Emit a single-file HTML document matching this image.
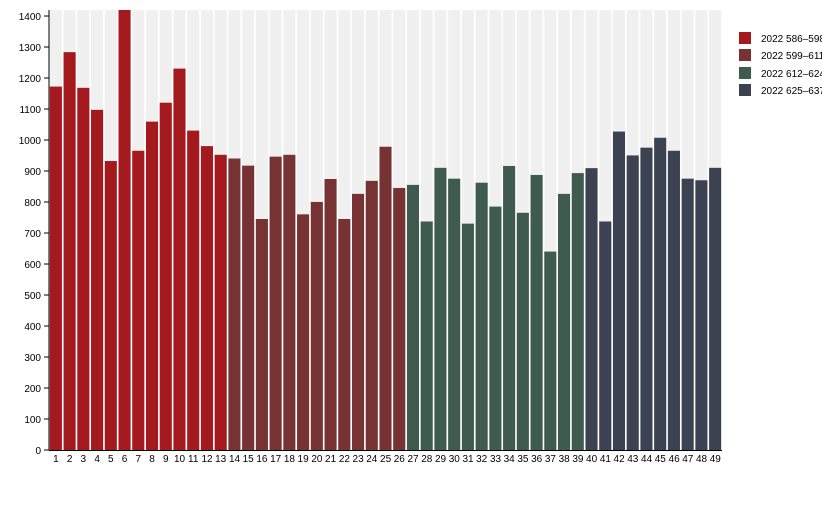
<!DOCTYPE html>
<html><head><meta charset="utf-8"><style>
body{margin:0;background:#fff;}
svg text{font-family:"Liberation Sans",sans-serif;font-size:10px;fill:#000;}
</style></head><body>
<svg width="822" height="500" xmlns="http://www.w3.org/2000/svg">
<svg x="49" y="10" width="673" height="440" viewBox="0 0 49 1419" preserveAspectRatio="none">
<g transform="translate(0,1419) scale(1,-1)">
<g fill="#f0f0f0">
<rect x="0.06" y="0" width="0.88" height="1419"/><rect x="1.06" y="0" width="0.88" height="1419"/><rect x="2.06" y="0" width="0.88" height="1419"/><rect x="3.06" y="0" width="0.88" height="1419"/><rect x="4.06" y="0" width="0.88" height="1419"/><rect x="5.06" y="0" width="0.88" height="1419"/><rect x="6.06" y="0" width="0.88" height="1419"/><rect x="7.06" y="0" width="0.88" height="1419"/><rect x="8.06" y="0" width="0.88" height="1419"/><rect x="9.06" y="0" width="0.88" height="1419"/><rect x="10.06" y="0" width="0.88" height="1419"/><rect x="11.06" y="0" width="0.88" height="1419"/><rect x="12.06" y="0" width="0.88" height="1419"/><rect x="13.06" y="0" width="0.88" height="1419"/><rect x="14.06" y="0" width="0.88" height="1419"/><rect x="15.06" y="0" width="0.88" height="1419"/><rect x="16.06" y="0" width="0.88" height="1419"/><rect x="17.06" y="0" width="0.88" height="1419"/><rect x="18.06" y="0" width="0.88" height="1419"/><rect x="19.06" y="0" width="0.88" height="1419"/><rect x="20.06" y="0" width="0.88" height="1419"/><rect x="21.06" y="0" width="0.88" height="1419"/><rect x="22.06" y="0" width="0.88" height="1419"/><rect x="23.06" y="0" width="0.88" height="1419"/><rect x="24.06" y="0" width="0.88" height="1419"/><rect x="25.06" y="0" width="0.88" height="1419"/><rect x="26.06" y="0" width="0.88" height="1419"/><rect x="27.06" y="0" width="0.88" height="1419"/><rect x="28.06" y="0" width="0.88" height="1419"/><rect x="29.06" y="0" width="0.88" height="1419"/><rect x="30.06" y="0" width="0.88" height="1419"/><rect x="31.06" y="0" width="0.88" height="1419"/><rect x="32.06" y="0" width="0.88" height="1419"/><rect x="33.06" y="0" width="0.88" height="1419"/><rect x="34.06" y="0" width="0.88" height="1419"/><rect x="35.06" y="0" width="0.88" height="1419"/><rect x="36.06" y="0" width="0.88" height="1419"/><rect x="37.06" y="0" width="0.88" height="1419"/><rect x="38.06" y="0" width="0.88" height="1419"/><rect x="39.06" y="0" width="0.88" height="1419"/><rect x="40.06" y="0" width="0.88" height="1419"/><rect x="41.06" y="0" width="0.88" height="1419"/><rect x="42.06" y="0" width="0.88" height="1419"/><rect x="43.06" y="0" width="0.88" height="1419"/><rect x="44.06" y="0" width="0.88" height="1419"/><rect x="45.06" y="0" width="0.88" height="1419"/><rect x="46.06" y="0" width="0.88" height="1419"/><rect x="47.06" y="0" width="0.88" height="1419"/><rect x="48.06" y="0" width="0.88" height="1419"/>
</g>
<g fill="#a4191d">
<rect x="0.06" y="0" width="0.88" height="1172"/><rect x="1.06" y="0" width="0.88" height="1283"/><rect x="2.06" y="0" width="0.88" height="1168"/><rect x="3.06" y="0" width="0.88" height="1097"/><rect x="4.06" y="0" width="0.88" height="932"/><rect x="5.06" y="0" width="0.88" height="1419"/><rect x="6.06" y="0" width="0.88" height="965"/><rect x="7.06" y="0" width="0.88" height="1059"/><rect x="8.06" y="0" width="0.88" height="1120"/><rect x="9.06" y="0" width="0.88" height="1230"/><rect x="10.06" y="0" width="0.88" height="1030"/><rect x="11.06" y="0" width="0.88" height="980"/><rect x="12.06" y="0" width="0.88" height="952"/>
</g>
<g fill="#773333">
<rect x="13.06" y="0" width="0.88" height="940"/><rect x="14.06" y="0" width="0.88" height="917"/><rect x="15.06" y="0" width="0.88" height="745"/><rect x="16.06" y="0" width="0.88" height="946"/><rect x="17.06" y="0" width="0.88" height="952"/><rect x="18.06" y="0" width="0.88" height="760"/><rect x="19.06" y="0" width="0.88" height="800"/><rect x="20.06" y="0" width="0.88" height="874"/><rect x="21.06" y="0" width="0.88" height="745"/><rect x="22.06" y="0" width="0.88" height="826"/><rect x="23.06" y="0" width="0.88" height="868"/><rect x="24.06" y="0" width="0.88" height="978"/><rect x="25.06" y="0" width="0.88" height="845"/>
</g>
<g fill="#3f5b4f">
<rect x="26.06" y="0" width="0.88" height="855"/><rect x="27.06" y="0" width="0.88" height="737"/><rect x="28.06" y="0" width="0.88" height="910"/><rect x="29.06" y="0" width="0.88" height="875"/><rect x="30.06" y="0" width="0.88" height="730"/><rect x="31.06" y="0" width="0.88" height="862"/><rect x="32.06" y="0" width="0.88" height="785"/><rect x="33.06" y="0" width="0.88" height="916"/><rect x="34.06" y="0" width="0.88" height="765"/><rect x="35.06" y="0" width="0.88" height="887"/><rect x="36.06" y="0" width="0.88" height="640"/><rect x="37.06" y="0" width="0.88" height="826"/><rect x="38.06" y="0" width="0.88" height="893"/>
</g>
<g fill="#3d4252">
<rect x="39.06" y="0" width="0.88" height="909"/><rect x="40.06" y="0" width="0.88" height="737"/><rect x="41.06" y="0" width="0.88" height="1027"/><rect x="42.06" y="0" width="0.88" height="950"/><rect x="43.06" y="0" width="0.88" height="975"/><rect x="44.06" y="0" width="0.88" height="1007"/><rect x="45.06" y="0" width="0.88" height="965"/><rect x="46.06" y="0" width="0.88" height="875"/><rect x="47.06" y="0" width="0.88" height="870"/><rect x="48.06" y="0" width="0.88" height="910"/>
</g>
</g>
</svg>
<line x1="49" y1="10" x2="49" y2="450.5" stroke="#000"/>
<line x1="49" y1="450.5" x2="722" y2="450.5" stroke="#000"/>
<g stroke="#000">
<line x1="44" x2="49" y1="450" y2="450"/><line x1="44" x2="49" y1="419" y2="419"/><line x1="44" x2="49" y1="388" y2="388"/><line x1="44" x2="49" y1="357" y2="357"/><line x1="44" x2="49" y1="326" y2="326"/><line x1="44" x2="49" y1="295" y2="295"/><line x1="44" x2="49" y1="264" y2="264"/><line x1="44" x2="49" y1="233" y2="233"/><line x1="44" x2="49" y1="202" y2="202"/><line x1="44" x2="49" y1="171" y2="171"/><line x1="44" x2="49" y1="140" y2="140"/><line x1="44" x2="49" y1="109" y2="109"/><line x1="44" x2="49" y1="78" y2="78"/><line x1="44" x2="49" y1="47" y2="47"/><line x1="44" x2="49" y1="16" y2="16"/>
</g>
<g text-anchor="end">
<text x="41" y="454">0</text><text x="41" y="423">100</text><text x="41" y="392">200</text><text x="41" y="361">300</text><text x="41" y="330">400</text><text x="41" y="299">500</text><text x="41" y="268">600</text><text x="41" y="237">700</text><text x="41" y="206">800</text><text x="41" y="175">900</text><text x="41" y="144">1000</text><text x="41" y="113">1100</text><text x="41" y="82">1200</text><text x="41" y="51">1300</text><text x="41" y="20">1400</text>
</g>
<g text-anchor="middle">
<text x="55.9" y="462">1</text><text x="69.6" y="462">2</text><text x="83.3" y="462">3</text><text x="97.1" y="462">4</text><text x="110.8" y="462">5</text><text x="124.5" y="462">6</text><text x="138.3" y="462">7</text><text x="152.0" y="462">8</text><text x="165.8" y="462">9</text><text x="179.5" y="462">10</text><text x="193.2" y="462">11</text><text x="207.0" y="462">12</text><text x="220.7" y="462">13</text><text x="234.5" y="462">14</text><text x="248.2" y="462">15</text><text x="261.9" y="462">16</text><text x="275.7" y="462">17</text><text x="289.4" y="462">18</text><text x="303.1" y="462">19</text><text x="316.9" y="462">20</text><text x="330.6" y="462">21</text><text x="344.4" y="462">22</text><text x="358.1" y="462">23</text><text x="371.8" y="462">24</text><text x="385.6" y="462">25</text><text x="399.3" y="462">26</text><text x="413.0" y="462">27</text><text x="426.8" y="462">28</text><text x="440.5" y="462">29</text><text x="454.3" y="462">30</text><text x="468.0" y="462">31</text><text x="481.7" y="462">32</text><text x="495.5" y="462">33</text><text x="509.2" y="462">34</text><text x="522.9" y="462">35</text><text x="536.7" y="462">36</text><text x="550.4" y="462">37</text><text x="564.2" y="462">38</text><text x="577.9" y="462">39</text><text x="591.6" y="462">40</text><text x="605.4" y="462">41</text><text x="619.1" y="462">42</text><text x="632.8" y="462">43</text><text x="646.6" y="462">44</text><text x="660.3" y="462">45</text><text x="674.1" y="462">46</text><text x="687.8" y="462">47</text><text x="701.5" y="462">48</text><text x="715.3" y="462">49</text>
</g>
<rect x="739" y="32" width="12" height="12" fill="#a4191d"/>
<rect x="739" y="49" width="12" height="12" fill="#773333"/>
<rect x="739" y="67" width="12" height="12" fill="#3f5b4f"/>
<rect x="739" y="84" width="12" height="12" fill="#3d4252"/>
<text x="761" y="42">2022 586–598</text>
<text x="761" y="59">2022 599–611</text>
<text x="761" y="77">2022 612–624</text>
<text x="761" y="94">2022 625–637</text>
</svg>
</body></html>
